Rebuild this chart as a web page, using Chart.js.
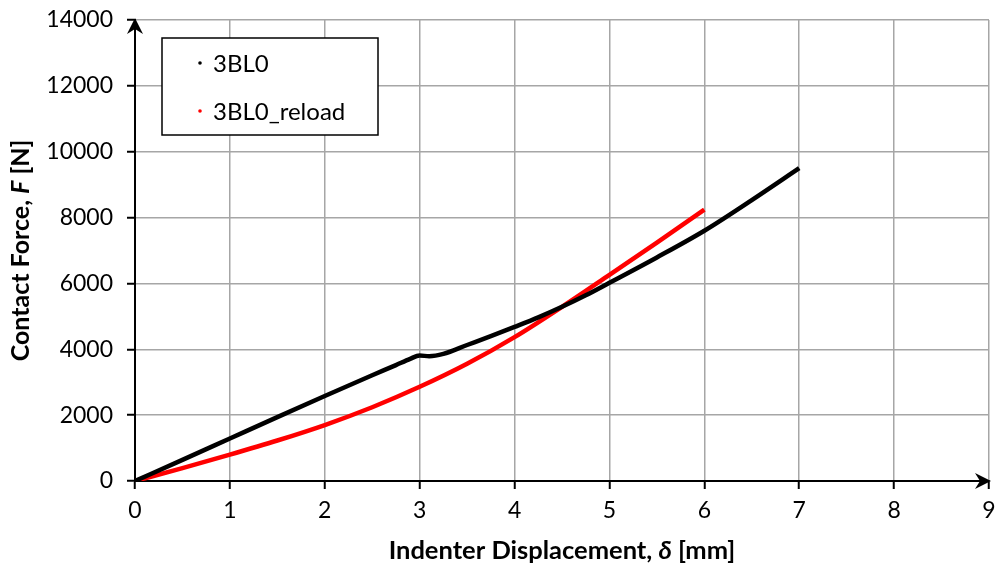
<!DOCTYPE html>
<html>
<head>
<meta charset="utf-8">
<script src="https://cdn.jsdelivr.net/npm/chart.js@4.4.0/dist/chart.umd.min.js"></script>
<style>
  html, body { margin: 0; padding: 0; background: #fff; }
  #wrap { width: 1000px; height: 571px; position: relative; }
</style>
</head>
<body>
<div id="wrap"><canvas id="chart" width="1000" height="571"></canvas></div>
<script>
// data
const seriesNames = ['3BL0', '3BL0_reload'];
const blackX = [0, 0.5, 1, 1.5, 2, 2.5, 2.75, 2.9, 3.0, 3.1, 3.25, 3.5, 3.75, 4, 4.25, 4.5, 4.75, 5, 5.5, 6, 6.5, 7];
const blackY = [0, 640, 1290, 1940, 2580, 3210, 3520, 3710, 3810, 3790, 3860, 4130, 4400, 4680, 4970, 5290, 5640, 6020, 6790, 7600, 8530, 9500];
const redX = [0, 0.5, 1, 1.5, 2, 2.5, 3, 3.5, 4, 4.5, 5, 5.5, 6];
const redY = [0, 390, 800, 1230, 1700, 2240, 2860, 3560, 4370, 5290, 6260, 7240, 8240];
const xTitleParts = [['Indenter Displacement, ', 'bold'], ['δ', 'bold italic'], [' [mm]', 'bold']];
const yTitleParts = [['Contact Force, ', 'bold'], ['F', 'bold italic'], [' [N]', 'bold']];

const FONT = 'Lato, sans-serif';

function toPoints(xs, ys) {
  return xs.map((x, i) => ({ x: x, y: ys[i] }));
}

// draws a title made of pieces with different font styles
function drawParts(ctx, parts, size) {
  let total = 0;
  parts.forEach(p => {
    ctx.font = p[1] + ' ' + size + 'px ' + FONT;
    total += ctx.measureText(p[0]).width;
  });
  let x = -total / 2;
  parts.forEach(p => {
    ctx.font = p[1] + ' ' + size + 'px ' + FONT;
    ctx.fillText(p[0], x, 0);
    x += ctx.measureText(p[0]).width;
  });
}

const extras = {
  id: 'extras',
  afterDraw(chart) {
    const ctx = chart.ctx;
    const a = chart.chartArea;
    ctx.save();
    ctx.fillStyle = '#000';

    // axis arrows
    ctx.beginPath();
    ctx.moveTo(a.left, a.top - 2);
    ctx.lineTo(a.left - 8, a.top + 14);
    ctx.lineTo(a.left, a.top + 9);
    ctx.lineTo(a.left + 8, a.top + 14);
    ctx.closePath();
    ctx.fill();
    ctx.beginPath();
    ctx.moveTo(a.right + 2, a.bottom);
    ctx.lineTo(a.right - 14, a.bottom - 8);
    ctx.lineTo(a.right - 9, a.bottom);
    ctx.lineTo(a.right - 14, a.bottom + 8);
    ctx.closePath();
    ctx.fill();

    // axis titles
    ctx.textBaseline = 'middle';
    ctx.textAlign = 'left';
    ctx.save();
    ctx.translate((a.left + a.right) / 2, 551);
    drawParts(ctx, xTitleParts, 25.5);
    ctx.restore();
    ctx.save();
    ctx.translate(21, (a.top + a.bottom) / 2);
    ctx.rotate(-Math.PI / 2);
    drawParts(ctx, yTitleParts, 25);
    ctx.restore();

    // legend box
    const bx = 162, by = 38, bw = 216, bh = 97;
    ctx.fillStyle = '#fff';
    ctx.fillRect(bx, by, bw, bh);
    ctx.strokeStyle = '#000';
    ctx.lineWidth = 1.5;
    ctx.strokeRect(bx, by, bw, bh);
    ctx.font = '24px ' + FONT;
    chart.data.datasets.forEach((ds, i) => {
      const cy = by + 25 + i * 48;
      ctx.fillStyle = ds.borderColor;
      ctx.beginPath();
      ctx.arc(bx + 38, cy, 1.8, 0, Math.PI * 2);
      ctx.fill();
      ctx.fillStyle = '#000';
      ctx.fillText(ds.label, bx + 51, cy + 1);
    });
    ctx.restore();
  }
};

new Chart(document.getElementById('chart'), {
  type: 'scatter',
  data: {
    datasets: [
      {
        label: seriesNames[0],
        data: toPoints(blackX, blackY),
        showLine: true,
        borderColor: '#000000',
        backgroundColor: '#000000',
        borderWidth: 4.5,
        pointRadius: 0,
        cubicInterpolationMode: 'monotone'
      },
      {
        label: seriesNames[1],
        data: toPoints(redX, redY),
        showLine: true,
        borderColor: '#ff0000',
        backgroundColor: '#ff0000',
        borderWidth: 4.5,
        pointRadius: 0,
        cubicInterpolationMode: 'monotone'
      }
    ]
  },
  options: {
    responsive: false,
    animation: false,
    layout: { padding: { top: 20, right: 11, left: 0, bottom: 0 } },
    plugins: {
      legend: { display: false },
      tooltip: { enabled: false }
    },
    scales: {
      x: {
        type: 'linear',
        min: 0,
        max: 9,
        ticks: { stepSize: 1, color: '#000', font: { family: FONT, size: 23 }, padding: 8,
                 callback: v => String(v) },
        grid: { color: '#a6a6a6', lineWidth: 1.5, tickLength: 8, tickColor: '#000', tickWidth: 2 },
        border: { color: '#000', width: 2 },
        afterFit(scale) {
          scale.height = 90;
          scale.paddingLeft = 0;
          scale.paddingRight = 0;
        }
      },
      y: {
        min: 0,
        max: 14000,
        ticks: { stepSize: 2000, color: '#000', font: { family: FONT, size: 23 }, padding: 14,
                 callback: v => String(v) },
        grid: { color: '#a6a6a6', lineWidth: 1.5, tickLength: 8, tickColor: '#000', tickWidth: 2 },
        border: { color: '#000', width: 2 },
        afterFit(scale) {
          scale.width = 135;
          scale.paddingTop = 0;
          scale.paddingBottom = 0;
        }
      }
    }
  },
  plugins: [extras]
});
</script>
</body>
</html>
